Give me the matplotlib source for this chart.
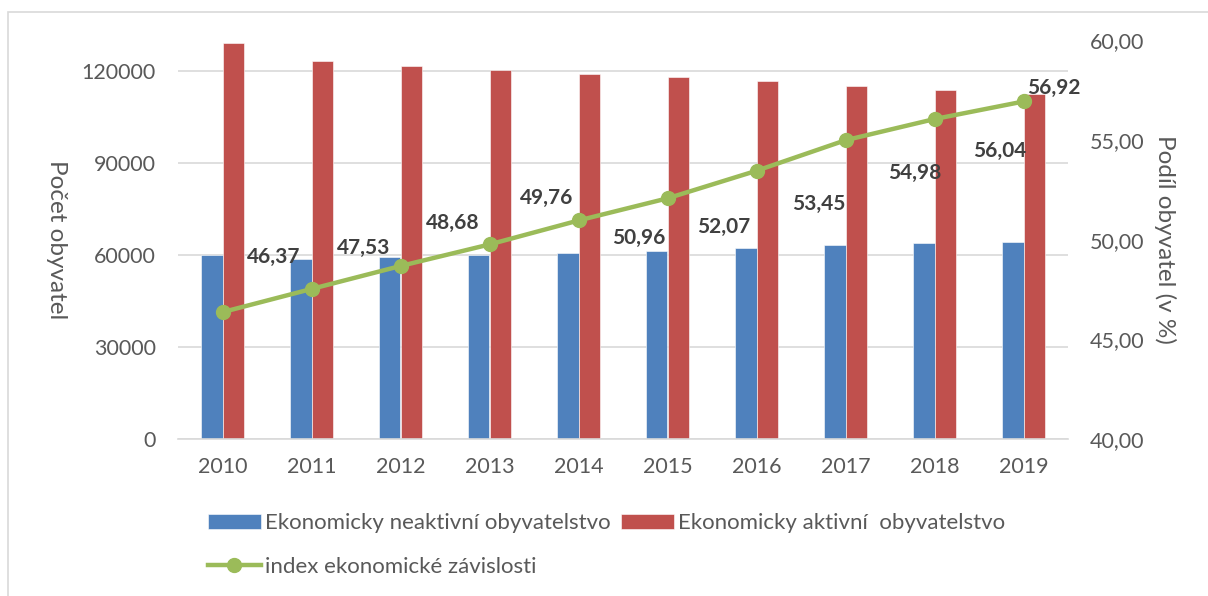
import matplotlib.pyplot as plt
from matplotlib.patches import Rectangle
from matplotlib.ticker import FuncFormatter
import numpy as np

plt.rcParams['font.family'] = ['Lato', 'DejaVu Sans']

years = ['2010', '2011', '2012', '2013', '2014', '2015', '2016', '2017', '2018', '2019']
neaktivni = [59850, 58550, 59400, 59850, 60700, 61350, 62330, 63210, 63760, 64090]
aktivni = [129120, 123060, 121530, 120220, 118920, 117940, 116640, 114920, 113700, 112400]
index_zav = [46.37, 47.53, 48.68, 49.76, 50.96, 52.07, 53.45, 54.98, 56.04, 56.92]

# label offsets in pixels (dx, dy) relative to the marker
label_offsets = [(51, 55), (52, 41), (52, 43), (57, 46), (60, -17),
                 (56, -29), (62, -33), (69, -33), (65, -32), (30, 14)]

blue = '#4F81BD'
red = '#C0504D'
green = '#9BBB59'
grid_c = '#D9D9D9'
txt_c = '#595959'
fs = 15.5

fig = plt.figure(figsize=(12.08, 5.96), dpi=100)
fig.patches.append(Rectangle((8 / 1208, -0.1), 1.2, 1.1 - 12 / 596, transform=fig.transFigure,
                             fill=False, edgecolor=grid_c, linewidth=1.2))

ax = fig.add_axes([178 / 1208, 1 - 439.3 / 596, 890 / 1208, 399.3 / 596])
x = np.arange(len(years))
w = 0.236

b1 = ax.bar(x - w / 2, neaktivni, w, color=blue, edgecolor='white', linewidth=0.4, zorder=2,
            label='Ekonomicky neaktivní obyvatelstvo')
b2 = ax.bar(x + w / 2, aktivni, w, color=red, edgecolor='white', linewidth=0.4, zorder=2,
            label='Ekonomicky aktivní  obyvatelstvo')

ax.set_xlim(-0.5, len(years) - 0.5)
ax.set_ylim(0, 130000)
ax.set_yticks([0, 30000, 60000, 90000, 120000])
ax.yaxis.grid(True, color=grid_c, linewidth=1.2, zorder=0)
ax.set_axisbelow(True)
for s in ['top', 'right', 'left']:
    ax.spines[s].set_visible(False)
ax.spines['bottom'].set_color(grid_c)
ax.spines['bottom'].set_linewidth(1.2)
ax.set_xticks(x)
ax.set_xticklabels(years)
ax.tick_params(axis='x', length=0, pad=13, labelsize=fs, labelcolor=txt_c)
ax.tick_params(axis='y', length=0, pad=16, labelsize=fs, labelcolor=txt_c)
ax.set_ylabel('Počet obyvatel', fontsize=17.5, color=txt_c, rotation=-90, va='center')
ax.yaxis.set_label_coords(-0.136, 0.5)

ax2 = ax.twinx()
ax2.set_ylim(40, 60)
ax2.set_yticks([40, 45, 50, 55, 60])
ax2.yaxis.set_major_formatter(FuncFormatter(lambda v, p: '{:.2f}'.format(v).replace('.', ',')))
for s in ax2.spines.values():
    s.set_visible(False)
ax2.tick_params(axis='y', length=0, pad=16, labelsize=fs, labelcolor=txt_c)
ax2.set_ylabel('Podíl obyvatel (v %)', fontsize=17.5, color=txt_c, rotation=-90, va='center')
ax2.yaxis.set_label_coords(1.109, 0.5)

ln, = ax2.plot(x, index_zav, color=green, linewidth=3.2, marker='o', markersize=10,
               label='index ekonomické závislosti', zorder=3)

for xi, v, (dx, dy) in zip(x, index_zav, label_offsets):
    ax2.annotate('{:.2f}'.format(v).replace('.', ','), (xi, v), xytext=(dx, dy),
                 textcoords='offset pixels', ha='center', va='center',
                 fontsize=15, fontweight='bold', color='#404040')

fig.legend([b1, ln, b2],
           [b1.get_label(), ln.get_label(), b2.get_label()],
           loc='center', bbox_to_anchor=(0.502, 0.0856), ncol=2, frameon=False,
           fontsize=16, labelcolor=txt_c, handlelength=2.4, handletextpad=0.18,
           columnspacing=0.45, labelspacing=1.05, borderpad=0)

fig.savefig('out.png', dpi=100)
